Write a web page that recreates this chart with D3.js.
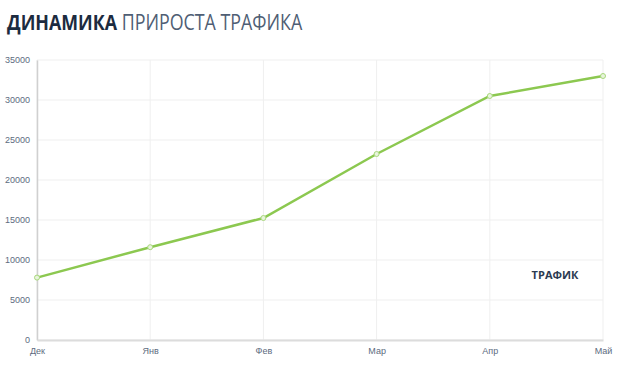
<!DOCTYPE html>
<html lang="ru">
<head>
<meta charset="utf-8">
<script src="https://d3js.org/d3.v7.min.js"></script>
<style>
  body { margin: 0; background: #fff; font-family: "Open Sans", sans-serif; }
  .tick text { fill: #5d6b80; font-family: "Liberation Sans", Arial, sans-serif; font-size: 9px; }
</style>
</head>
<body>
<div id="chart"></div>
<script>
const months = ["Дек", "Янв", "Фев", "Мар", "Апр", "Май"];
const traffic = [7800, 11600, 15250, 23250, 30500, 33000];
const yTicks = [0, 5000, 10000, 15000, 20000, 25000, 30000, 35000];

const width = 622, height = 380;
const plotLeft = 37, plotRight = 603, plotTop = 60, plotBottom = 340;

const svg = d3.select("#chart").append("svg")
  .attr("width", width)
  .attr("height", height);

const x = d3.scalePoint().domain(months).range([plotLeft, plotRight]);
const y = d3.scaleLinear().domain([0, 35000]).range([plotBottom, plotTop]);

// title (font is a bit narrower in the original, so squeeze it)
const title = svg.append("text")
  .attr("transform", "translate(7,30) scale(0.85,1)")
  .attr("font-size", 21)
  .attr("font-family", "'Open Sans', sans-serif");
title.append("tspan").attr("font-weight", "bold").attr("fill", "#1c2b40").text("ДИНАМИКА");
title.append("tspan").attr("fill", "#4f5e74").text(" ПРИРОСТА ТРАФИКА");

// grid
svg.append("g")
  .selectAll("line")
  .data(yTicks)
  .join("line")
  .attr("x1", plotLeft).attr("x2", plotRight)
  .attr("y1", d => y(d)).attr("y2", d => y(d))
  .attr("stroke", "#efefef");

svg.append("g")
  .selectAll("line")
  .data(months)
  .join("line")
  .attr("x1", d => x(d)).attr("x2", d => x(d))
  .attr("y1", plotTop).attr("y2", plotBottom)
  .attr("stroke", "#efefef");

// axes
const yAxis = svg.append("g")
  .attr("transform", `translate(${plotLeft},0)`)
  .call(d3.axisLeft(y).tickValues(yTicks).tickFormat(d3.format("d")).tickSize(0).tickPadding(7));
yAxis.select(".domain").attr("stroke", "#d0d0d0").attr("stroke-width", 1.5);

const xAxis = svg.append("g")
  .attr("transform", `translate(0,${plotBottom})`)
  .call(d3.axisBottom(x).tickSize(0).tickPadding(8));
xAxis.select(".domain").attr("stroke", "#dcdcdc").attr("stroke-width", 2);

// line
const line = d3.line()
  .x((d, i) => x(months[i]))
  .y(d => y(d));

svg.append("path")
  .datum(traffic)
  .attr("d", line)
  .attr("fill", "none")
  .attr("stroke", "#8cc850")
  .attr("stroke-width", 2.5);

svg.append("g")
  .selectAll("circle")
  .data(traffic)
  .join("circle")
  .attr("cx", (d, i) => x(months[i]))
  .attr("cy", d => y(d))
  .attr("r", 2.5)
  .attr("fill", "#e8f4dc")
  .attr("stroke", "#a8d87c")
  .attr("stroke-width", 1);

// legend
svg.append("text")
  .attr("x", 555)
  .attr("y", 279)
  .attr("text-anchor", "middle")
  .attr("font-size", 11)
  .attr("font-weight", "bold")
  .attr("fill", "#2c3b52")
  .text("ТРАФИК");
</script>
</body>
</html>
